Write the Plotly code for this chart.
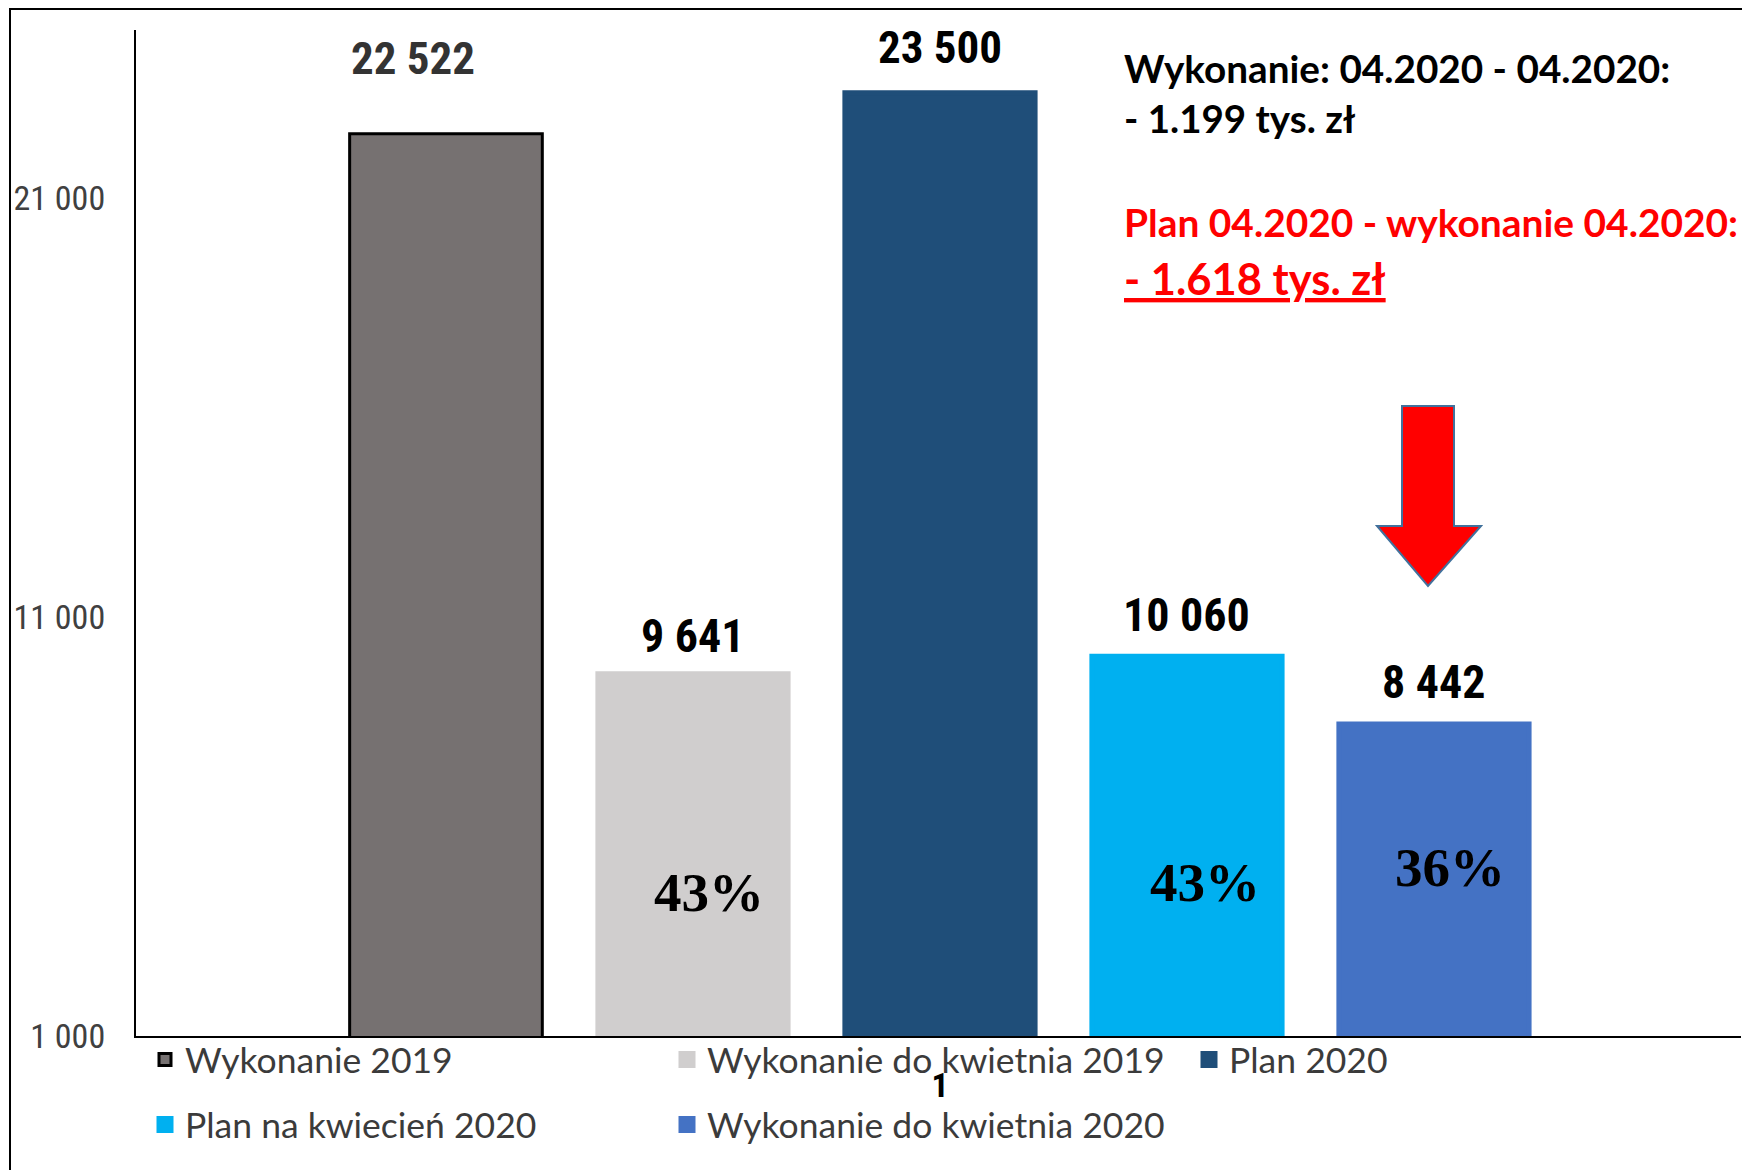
import plotly.graph_objects as go

# ---------------- data ----------------
series = ["Wykonanie 2019", "Wykonanie do kwietnia 2019", "Plan 2020",
          "Plan na kwiecień 2020", "Wykonanie do kwietnia 2020"]
values = [22522, 9641, 23500, 10060, 8442]
percent_labels = [None, "43%", None, "43%", "36%"]
category_label = "1"
y_ticks = [1000, 11000, 21000]
note_black = ["Wykonanie: 04.2020 - 04.2020:", "- 1.199 tys. zł"]
note_red = ["Plan 04.2020 - wykonanie 04.2020:", "- 1.618 tys. zł"]

# ---------------- style ----------------
colors = ["#767171", "#D0CECE", "#1F4E79", "#00B0F0", "#4472C4"]
outline_colors = ["#000000", "#D0CECE", "#1F4E79", "#00B0F0", "#4472C4"]
outline_widths = [3, 5, 5, 5, 5]
bar_widths = [0.78, 0.77, 0.77, 0.77, 0.77]
label_colors = ["#333333", "#000000", "#000000", "#000000", "#000000"]
label_sizes = [45, 46, 45, 46, 46]
label_shift_y = [75, 38, 45, 41, 42]
label_shift_x = [-33, 0, 0, 0, 0]
pct_shift_y = [0, 144, 0, 154, 169]
pct_shift_x = [0, 16, 0, 18, 16]
legend_rows = ["legend", "legend", "legend", "legend2", "legend2"]

# page offset (html body margin) and figure size
OFF = 8
W, H = 1750 - OFF, 1170 - OFF
# plot area in page pixels
PL, PR, PT, PB = 136, 1741, 30, 1036
ML, MR, MT, MB = PL - OFF, W - (PR - OFF), PT - OFF, H - (PB - OFF)
PW, PH = PR - PL, PB - PT


def xp(px):
    return (px - PL) / PW


def yp(py):
    return (PB - py) / PH


NARROW = "Roboto Condensed, Liberation Sans Narrow, Liberation Sans, sans-serif"
SANS = "Lato, Calibri, sans-serif"
SERIF = "Liberation Serif, Times New Roman, serif"

fig = go.Figure()
for i, name in enumerate(series):
    fig.add_trace(go.Bar(
        x=[i], y=[values[i]], name=name, width=bar_widths[i],
        marker=dict(color=colors[i],
                    line=dict(color=outline_colors[i], width=outline_widths[i])),
        legend=legend_rows[i],
        hoverinfo="name+y",
    ))

annotations = []
for i, v in enumerate(values):
    annotations.append(dict(
        x=i, y=v, xref="x", yref="y", text="<b>%s</b>" % f"{v:,}".replace(",", " "),
        showarrow=False, xanchor="center", yanchor="middle",
        xshift=label_shift_x[i], yshift=label_shift_y[i],
        font=dict(family=NARROW, size=label_sizes[i], color=label_colors[i]),
    ))
    if percent_labels[i]:
        annotations.append(dict(
            x=i, y=y_ticks[0], xref="x", yref="y", text="<b>%s</b>" % percent_labels[i],
            showarrow=False, xanchor="center", yanchor="middle",
            xshift=pct_shift_x[i], yshift=pct_shift_y[i],
            font=dict(family=SERIF, size=55, color="#000000"),
        ))

note_lines = [
    (note_black[0], 68, "#000000", 38.7, False),
    (note_black[1], 118, "#000000", 38.5, False),
    (note_red[0], 222, "#FF0000", 38.9, False),
    (note_red[1], 278, "#FF0000", 43.5, True),
]
for text, ypx, col, size, und in note_lines:
    t = "<b>%s</b>" % text
    if und:
        t = "<u>%s</u>" % t
    annotations.append(dict(
        x=xp(1122), y=yp(ypx), xref="paper", yref="paper", text=t,
        showarrow=False, xanchor="left", yanchor="middle",
        font=dict(family=SANS, size=size, color=col),
    ))

# down arrow (decoration) and outer frame
arrow_pts = [(1402, 406), (1454, 406), (1454, 526), (1481, 526), (1428, 586),
             (1377, 526), (1402, 526)]
path = "M " + " L ".join("%.5f,%.5f" % (xp(a), yp(b)) for a, b in arrow_pts) + " Z"
shapes = [
    dict(type="path", path=path, xref="paper", yref="paper",
         fillcolor="#FF0000", line=dict(color="#41719C", width=2)),
    dict(type="rect", xref="paper", yref="paper",
         x0=xp(10), x1=xp(1745), y0=yp(OFF + 1), y1=yp(1200),
         line=dict(color="#000000", width=2), fillcolor="rgba(0,0,0,0)"),
]

legend_common = dict(
    orientation="h", xanchor="left", yanchor="middle",
    entrywidth=477, entrywidthmode="pixels",
    font=dict(family=SANS, size=35.5, color="#3B3B3B"),
    bgcolor="rgba(0,0,0,0)", traceorder="normal", itemsizing="trace",
)

fig.update_layout(
    width=W, height=H,
    margin=dict(l=ML, r=MR, t=MT, b=MB, pad=0, autoexpand=False),
    paper_bgcolor="white", plot_bgcolor="white",
    barmode="overlay",
    separators=", ",
    showlegend=True,
    legend=dict(x=xp(145), y=yp(1060), **legend_common),
    legend2=dict(x=xp(145), y=yp(1125), **legend_common),
    xaxis=dict(
        range=[-1.255, 5.243], tickvals=[2], ticktext=["<b>%s</b>" % category_label],
        showgrid=False, zeroline=False, showline=True, linecolor="#000000", linewidth=2,
        ticks="", ticklabelstandoff=18, automargin=False,
        tickfont=dict(family=NARROW, size=34, color="#000000"),
    ),
    yaxis=dict(
        range=[1000, 25000], tickvals=y_ticks, tickformat=",.0f",
        showgrid=False, zeroline=False, showline=True, linecolor="#000000", linewidth=2,
        ticks="", ticklabelstandoff=22, automargin=False,
        tickfont=dict(family=NARROW, size=34, color="#404040"),
    ),
    annotations=annotations,
    shapes=shapes,
)

fig.write_html("out.html")
